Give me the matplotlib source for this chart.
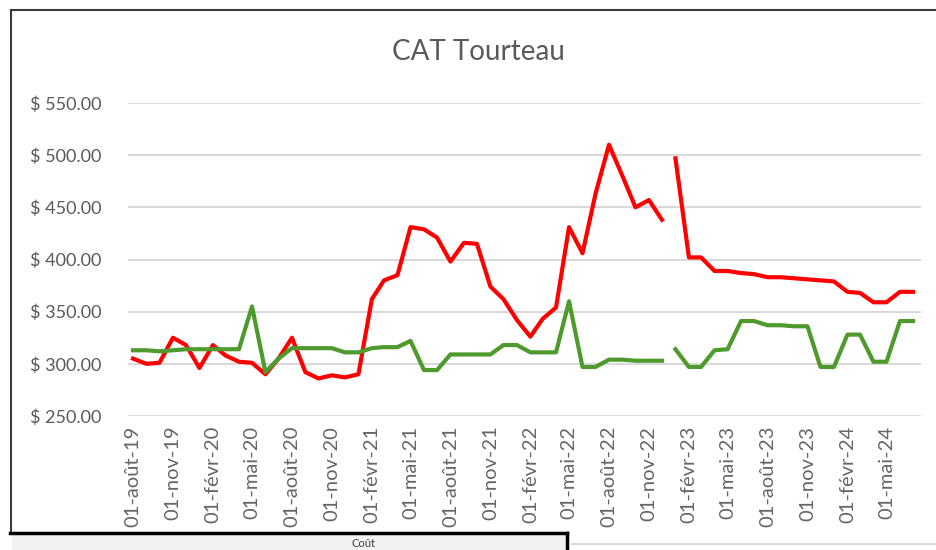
import numpy as np
import pandas as pd
import matplotlib
matplotlib.use("Agg")
from matplotlib import pyplot as plt
from matplotlib import dates as mdates
from matplotlib.lines import Line2D
from matplotlib.patches import Rectangle

plt.rcParams['font.family'] = ['Lato', 'DejaVu Sans']

# monthly values, two separate runs (gap between Dec 2022 and Jan 2023)
dates_2019_2022 = pd.date_range('2019-08-01', '2022-12-01', freq='MS')
red_2019_2022 = [305, 300, 301, 325, 318, 296, 318, 308, 302, 301,
                 290, 305, 325, 292, 286, 289, 287, 290, 362, 380,
                 385, 431, 429, 421, 398, 416, 415, 374, 362, 342,
                 326, 343, 354, 431, 406, 463, 510, 480, 450, 457,
                 438]
green_2019_2022 = [313, 313, 312, 313, 314, 314, 314, 314, 314, 355,
                   292, 305, 315, 315, 315, 315, 311, 311, 315, 316,
                   316, 322, 294, 294, 309, 309, 309, 309, 318, 318,
                   311, 311, 311, 360, 297, 297, 304, 304, 303, 303,
                   303]

dates_2023_2024 = pd.date_range('2023-01-01', '2024-07-01', freq='MS')
red_2023_2024 = [497, 402, 402, 389, 389, 387, 386, 383, 383, 382,
                 381, 380, 379, 369, 368, 359, 359, 369, 369]
green_2023_2024 = [314, 297, 297, 313, 314, 341, 341, 337, 337, 336,
                   336, 297, 297, 328, 328, 302, 302, 341, 341]

tick_dates = pd.date_range('2019-08-01', '2024-05-01', freq='3MS')
mois = {1: 'janv', 2: 'févr', 3: 'mars', 4: 'avr', 5: 'mai', 6: 'juin',
        7: 'juil', 8: 'août', 9: 'sept', 10: 'oct', 11: 'nov', 12: 'déc'}
tick_labels = ['01-%s-%s' % (mois[d.month], d.strftime('%y')) for d in tick_dates]

y_ticks = [250, 300, 350, 400, 450, 500, 550]

W, H = 936, 550
fig = plt.figure(figsize=(W / 100, H / 100), dpi=100)
ax = fig.add_axes([128 / W, 1 - 416 / H, (921 - 128) / W, (416 - 103) / H])

label_col = '#595959'
ax.plot(dates_2019_2022, red_2019_2022, color='#ff0000', lw=3, solid_joinstyle='round')
ax.plot(dates_2023_2024, red_2023_2024, color='#ff0000', lw=3, solid_joinstyle='round')
ax.plot(dates_2019_2022, green_2019_2022, color='#4e9a2c', lw=3, solid_joinstyle='round')
ax.plot(dates_2023_2024, green_2023_2024, color='#4e9a2c', lw=3, solid_joinstyle='round')

# x range: first point a few px in from the left edge
d0 = mdates.date2num(dates_2019_2022[0])
d1 = mdates.date2num(dates_2023_2024[-1])
per_px = (d1 - d0) / 780
ax.set_xlim(d0 - 5 * per_px, d1 + 8 * per_px)
ax.set_ylim(250, 550)

ax.set_xticks(tick_dates)
ax.set_xticklabels(tick_labels, rotation=90, fontsize=14.5, color='#666666')
ax.set_yticks(y_ticks)
ax.set_yticklabels(['$ %.2f' % v for v in y_ticks], fontsize=13, color=label_col)
ax.tick_params(axis='x', length=0, pad=7)
ax.tick_params(axis='y', length=0, pad=19)

ax.grid(axis='y', color='#d9d9d9', lw=1.5)
ax.set_axisbelow(True)
for s in ax.spines.values():
    s.set_visible(False)

fig.text(478 / W, 1 - 52 / H, 'CAT Tourteau', ha='center', va='center',
         fontsize=20, color=label_col)

# chart frame and the box of the next chart below it
tf = fig.transFigure
fig.add_artist(Line2D([11 / W, 11 / W], [1 - 10 / H, 1 - 533 / H], color='#3a3a3a', lw=1.5, transform=tf))
fig.add_artist(Line2D([11 / W, 1], [1 - 10 / H, 1 - 10 / H], color='#3a3a3a', lw=1.5, transform=tf))
fig.add_artist(Rectangle((12 / W, 0), (566 - 12) / W, (550 - 535) / H, color='#f2f2f2', transform=tf))
fig.add_artist(Line2D([10 / W, 567 / W], [1 - 533 / H, 1 - 533 / H], color='black', lw=2.5, transform=tf))
fig.add_artist(Line2D([567 / W, 567 / W], [1 - 533 / H, 0], color='black', lw=2.5, transform=tf))
fig.add_artist(Line2D([572 / W, 1], [1 - 544 / H, 1 - 544 / H], color='#d9d9d9', lw=1.5, transform=tf))
fig.text(352 / W, 1 / H, 'Coût', ha='left', va='bottom', fontsize=8, color='#404040')

fig.savefig('out.png', dpi=100)
